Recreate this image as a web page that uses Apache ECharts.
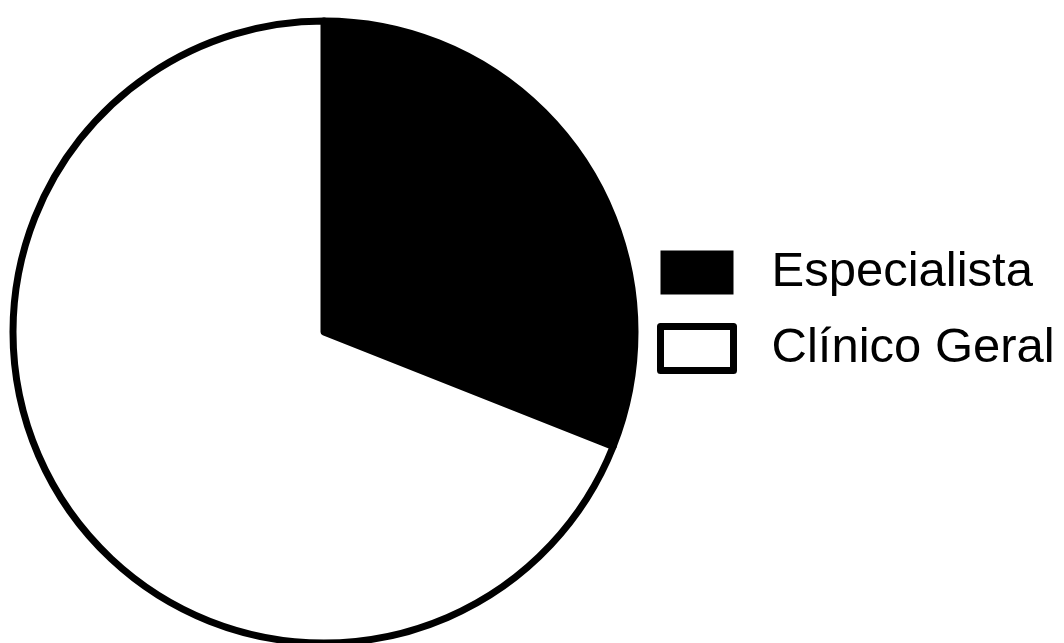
<!DOCTYPE html>
<html>
<head>
<meta charset="utf-8">
<style>
  html, body { margin: 0; padding: 0; background: #ffffff; }
  #chart { width: 1064px; height: 643px; }
</style>
<script src="https://cdn.jsdelivr.net/npm/echarts@6/dist/echarts.min.js"></script>
</head>
<body>
<div id="chart"></div>
<script>
// Share of consultations by type of physician (%)
const categories = ['Especialista', 'Clínico Geral'];
const values = [31, 69];
const fills = ['#000000', '#ffffff'];

const chart = echarts.init(document.getElementById('chart'), null, { renderer: 'canvas' });

const pieData = categories.map((name, i) => ({
  name: name,
  value: values[i],
  itemStyle: { color: fills[i], borderColor: '#000000', borderWidth: 7 }
}));

chart.setOption({
  animation: false,
  backgroundColor: '#ffffff',
  legend: {
    orient: 'vertical',
    left: 657,
    top: 248,
    padding: 0,
    icon: 'rect',
    itemWidth: 73,
    itemHeight: 44,
    itemGap: 26,
    textStyle: {
      fontFamily: 'Liberation Sans, Arial, sans-serif',
      fontSize: 49,
      color: '#000000',
      padding: [0, 0, 0, 33]
    },
    data: categories.map((name, i) => ({
      name: name,
      itemStyle: { color: fills[i], borderColor: '#000000', borderWidth: i === 0 ? 0 : 7 }
    }))
  },
  series: [{
    type: 'pie',
    center: [324, 332],
    radius: 311,
    startAngle: 90,
    clockwise: true,
    label: { show: false },
    labelLine: { show: false },
    emphasis: { disabled: true },
    data: pieData
  }]
});
</script>
</body>
</html>
